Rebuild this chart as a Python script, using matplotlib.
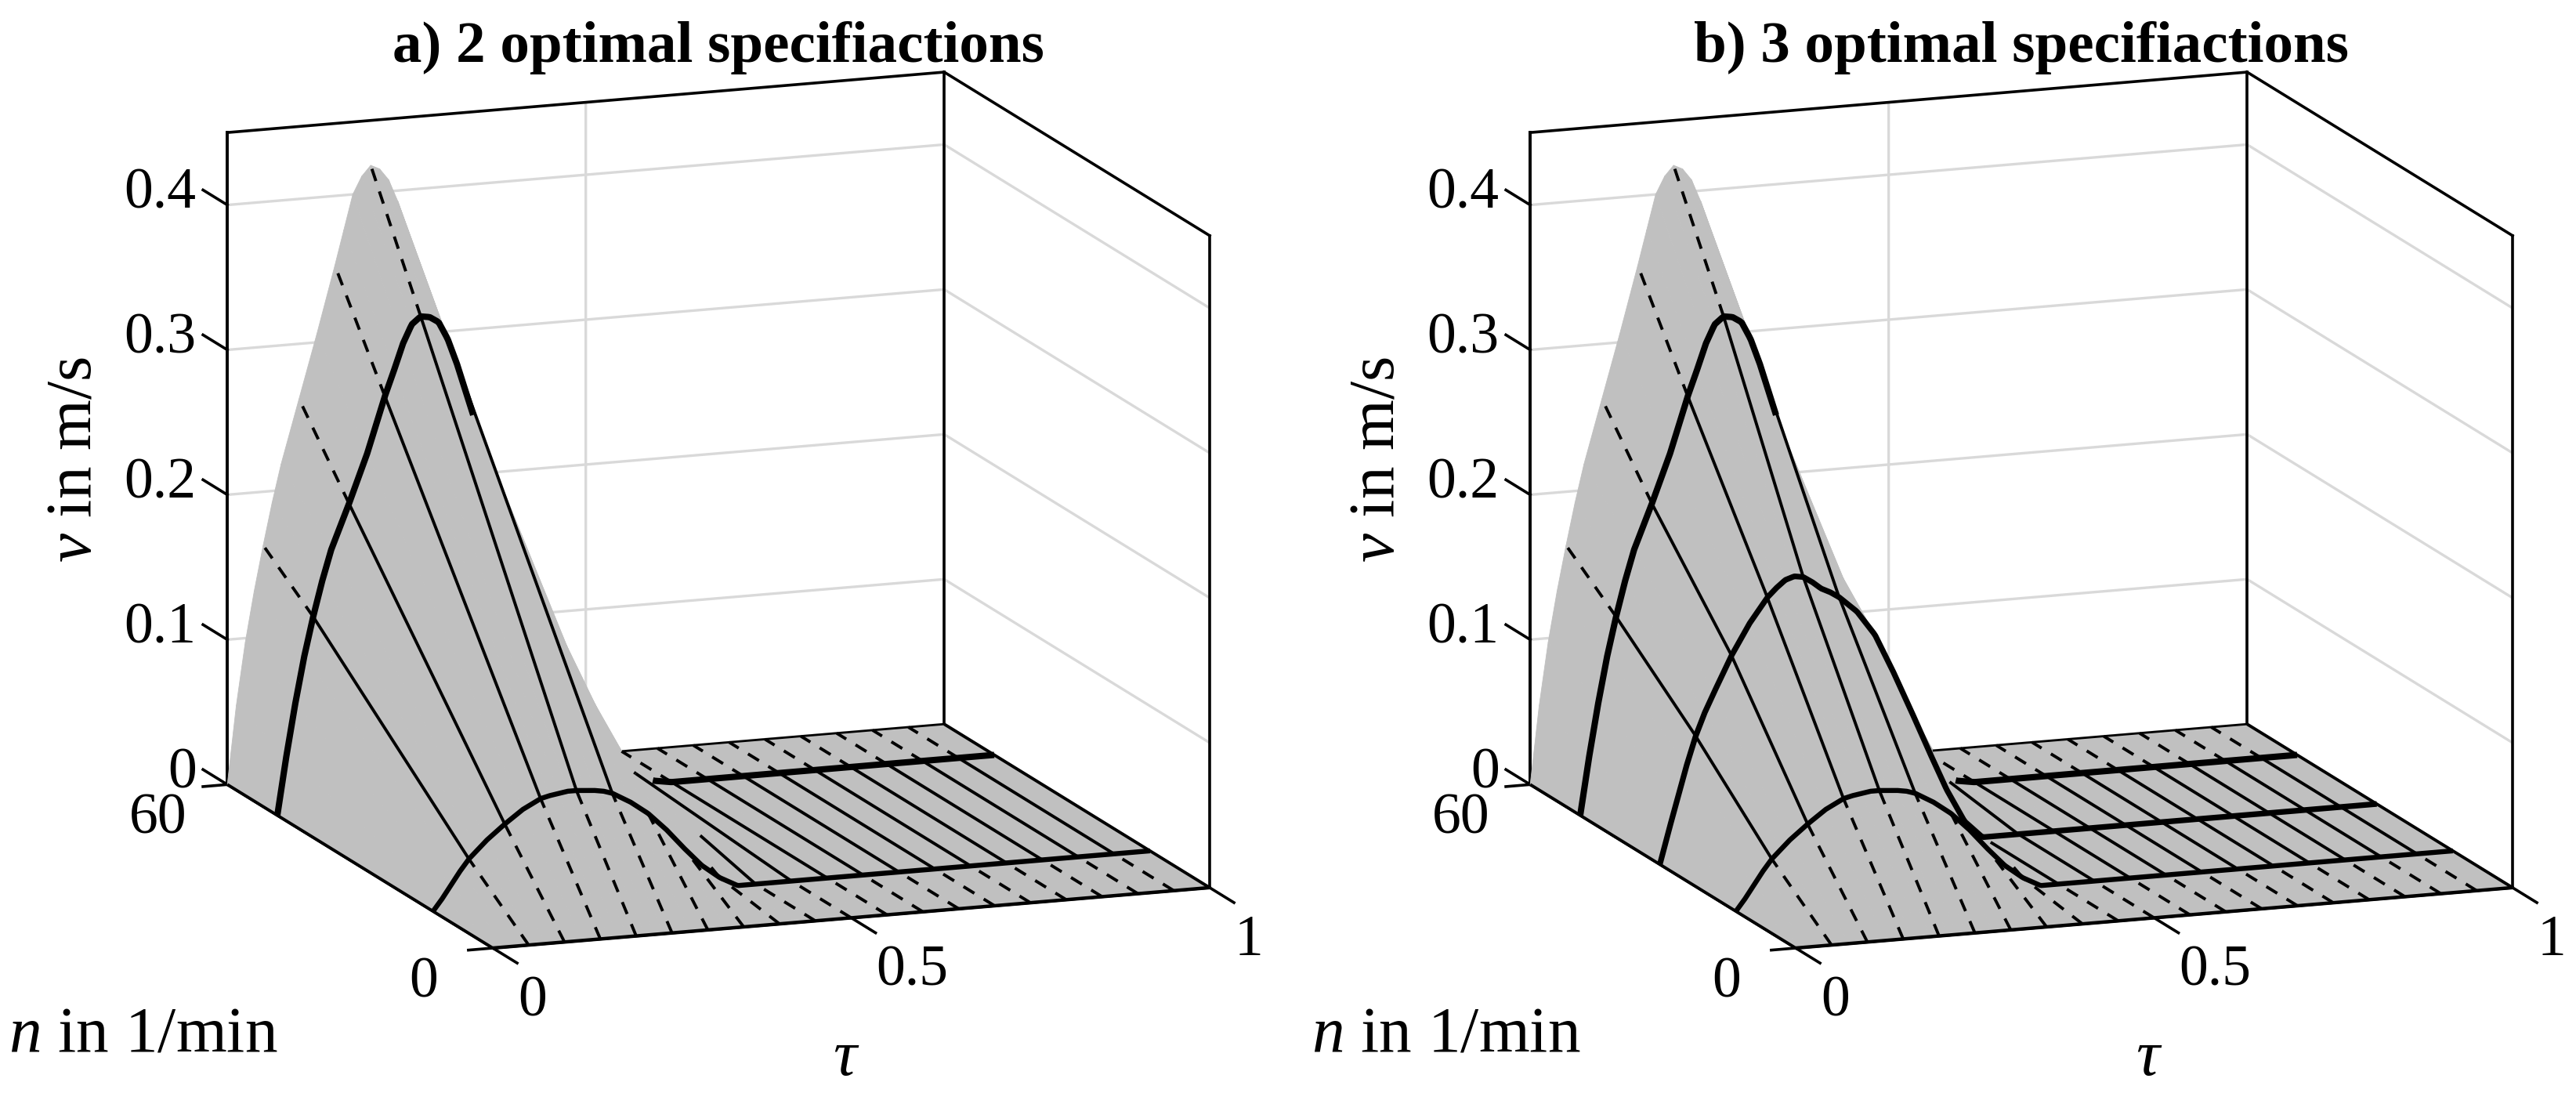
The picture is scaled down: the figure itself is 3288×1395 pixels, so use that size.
import numpy as np
import matplotlib
matplotlib.use("Agg")
import matplotlib.pyplot as plt
from mpl_toolkits.mplot3d import proj3d

W, H = 3288, 1395
plt.rcParams.update({
    'font.family': ['Liberation Serif', 'DejaVu Serif'],
    'mathtext.fontset': 'custom',
    'mathtext.rm': 'Liberation Serif',
    'mathtext.it': 'Liberation Serif:italic',
    'mathtext.bf': 'Liberation Serif:bold',
    'axes.linewidth': 2.6,
    'grid.color': '#d9d9d9', 'grid.linewidth': 2.4,
})

# ---- data ---------------------------------------------------------------
TAU_HUMP = [0, .0125, .025, .0375, .05, .0625, .075, .1, .125, .15, .1625, .175, .1875,
            .2, .2125, .225, .2375, .25, .275, .3, .325, .35, .375, .4, .425, .45,
            .475, .5, .525, .55, .575, .6]
TAU_FLAT = [.65, .7, .75, .8, .85, .9, .95, 1.0]
TAU_LINES = [.05, .1, .15, .2, .25, .3, .35, .4, .45, .5, .55, .6, .65, .7,
             .75, .8, .85, .9, .95]
V_FLAT = [0, 0, 0, 0, 0, 0, 0, 0]
V_N0 = [0] * 32
V_N13 = [0, .008, .017, .026, .034, .04, .046, .056, .065, .0715, .073, .074, .075,
         .075, .0745, .074, .073, .071, .064, .055, .043, .029, .016, .0065,
         0, 0, 0, 0, 0, 0, 0, 0]
V_N31 = [0, .023, .045, .067, .0865, .102, .115, .14, .161, .178, .184, .189, .191,
         .19, .186, .181, .178, .174, .163, .146, .12, .092, .063, .035, .012,
         0, 0, 0, 0, 0, 0, 0]
V_N49 = [0, .04, .076, .108, .135, .159, .18, .211, .244, .283, .30, .318, .331,
         .336, .335, .331, .319, .302, .262, .21, .166, .13, .097, .069, .045, .028,
         .016, .008, .002, 0, 0, 0]
V_N60 = [0, .054, .097, .132, .163, .192, .218, .262, .306, .352, .376, .400, .412,
         .419, .416, .408, .393, .375, .32, .26, .205, .16, .12, .085, .055, .035,
         .02, .01, .003, 0, 0, 0]
N_A = [0, 13.5, 48.7, 60]
N_B = [0, 13.5, 30.7, 48.7, 60]
SPEC_A = [13.5, 48.7]
SPEC_B = [13.5, 30.7, 48.7]
SPEC_WIDTH = {13.5: 4.6, 30.7: 5.2, 48.7: 5.8}
TITLE_A = 'a) 2 optimal specifiactions'
TITLE_B = 'b) 3 optimal specifiactions'
TAU_TICKS = [0, .5, 1]
TAU_TICKLABELS = ['0', '0.5', '1']
N_TICKS = [0, 60]
N_TICKLABELS = ['0', '60']
V_TICKS = [0, .1, .2, .3, .4]
V_TICKLABELS = ['0', '0.1', '0.2', '0.3', '0.4']

GRAY = '#c0c0c0'
ELEV, AZIM = 13.17, -110.3
BOX = (976, 977, 855)
VMAX = .45
FS_TICK = 53
FS_LABEL = 60
FS_TITLE = 54
DASH = (4.2, 3.6)
LW_BOX = 2.6

fig = plt.figure(figsize=(W / 100, H / 100), dpi=100, facecolor='white')


def interp2(tau, n, taus, ns, table):
    tau = np.clip(tau, taus[0], taus[-1]); n = np.clip(n, ns[0], ns[-1])
    i = np.clip(np.searchsorted(taus, tau, side='right') - 1, 0, len(taus) - 2)
    j = np.clip(np.searchsorted(ns, n, side='right') - 1, 0, len(ns) - 2)
    u = (tau - taus[i]) / (taus[i + 1] - taus[i])
    w = (n - ns[j]) / (ns[j + 1] - ns[j])
    return ((1 - u) * (1 - w) * table[j, i] + u * (1 - w) * table[j, i + 1]
            + (1 - u) * w * table[j + 1, i] + u * w * table[j + 1, i + 1])


def hidden(tau, n, v, taus, ns, table):
    az, el = np.radians(AZIM), np.radians(ELEV)
    dx = np.cos(el) * np.cos(az) / BOX[0]
    dy = np.cos(el) * np.sin(az) * 60 / BOX[1]
    dz = np.sin(el) * VMAX / BOX[2]
    out = np.zeros(tau.shape, bool)
    for s in np.linspace(2, 1500, 500):
        t2, n2, v2 = tau + s * dx, n + s * dy, v + s * dz
        inside = (t2 >= 0) & (n2 >= 0)
        out |= inside & (interp2(t2, n2, taus, ns, table) > v2 + .0015)
    return out


def project(ax, a, b, c):
    ax.apply_aspect()
    x, y, _z = proj3d.proj_transform(a, b, c, ax.get_proj())
    return ax.transData.transform((x, y))


def place(ax, x_target_b, y_target_b, x_target_c):
    """Size and shift the square 3D axes so the floor corners land on target."""
    side = 1500.0
    cx, cy = x_target_b + 400, 700.0
    for _ in range(4):
        ax.set_position([(cx - side / 2) / W, (H - cy - side / 2) / H, side / W, side / H])
        pb = project(ax, 0, 0, 0); pc = project(ax, 1, 0, 0)
        side *= (x_target_c - x_target_b) / (pc[0] - pb[0])
        cx += x_target_b - pb[0]
        cy += -((H - pb[1]) - y_target_b)
    ax.set_position([(cx - side / 2) / W, (H - cy - side / 2) / H, side / W, side / H])


def panel(ns, rows, specs, title, off):
    ax = fig.add_axes([0, 0, 1, 1], projection='3d', computed_zorder=False)
    ax.set_facecolor('none')
    ax.set_proj_type('ortho')
    ax.view_init(elev=ELEV, azim=AZIM)
    ax.set_box_aspect(BOX)
    ax.set_xlim(0, 1, view_margin=0)
    ax.set_ylim(0, 60, view_margin=0)
    ax.set_zlim(0, VMAX, view_margin=0)
    ax.set_xticks(TAU_TICKS, labels=[''] * len(TAU_TICKS))
    ax.set_yticks(N_TICKS, labels=[''] * len(N_TICKS))
    ax.set_zticks(V_TICKS, labels=[''] * len(V_TICKS))
    for axis in (ax.xaxis, ax.yaxis, ax.zaxis):
        axis.set_pane_color((1, 1, 1, 0))
        axis._axinfo['tick'].update(inward_factor=0, outward_factor=0)
    ax.yaxis._axinfo['grid'].update(color=(1, 1, 1, 0))

    taus = np.array(TAU_HUMP + TAU_FLAT, float)
    table = np.array([r + V_FLAT for r in rows], float)
    ns_a = np.array(ns, float)
    T, N = np.meshgrid(taus, ns_a)
    ax.plot_surface(T, N, table, rstride=1, cstride=1, color=GRAY, shade=False,
                    linewidth=.6, edgecolor=GRAY, antialiased=True, zorder=2)

    def draw(t, n, lw, z=4, vmax_shown=None, tau_end=None, show_until=-1, **kw):
        t = np.asarray(t, float) * np.ones(400); n = np.asarray(n, float) * np.ones(400)
        v = interp2(t, n, taus, ns_a, table)
        mask = hidden(t, n, v, taus, ns_a, table) & (t > show_until)
        if vmax_shown is not None:
            mask |= v > vmax_shown
        if tau_end is not None:
            mask |= (t > tau_end) & (v > .0025)
        v = np.where(mask, np.nan, v)
        ax.plot(t, n, v, color='k', lw=lw, zorder=z, solid_capstyle='butt', **kw)

    # walls
    for xs, ys, zs in [((0, 0), (60, 60), (0, VMAX)), ((1, 1), (60, 60), (0, VMAX)),
                       ((1, 1), (0, 0), (0, VMAX)), ((0, 1), (60, 60), (VMAX, VMAX)),
                       ((1, 1), (0, 60), (VMAX, VMAX))]:
        ax.plot(xs, ys, zs, color='k', lw=LW_BOX, zorder=1)
    # tick marks
    for val in V_TICKS:
        ax.plot((0, 0), (60, 65.5), (val, val), color='k', lw=LW_BOX, zorder=1)
    for val in TAU_TICKS:
        ax.plot((val, val), (0, -5.5), (0, 0), color='k', lw=LW_BOX, zorder=1)
    for val in N_TICKS:
        ax.plot((0, -.034), (val, val), (0, 0), color='k', lw=LW_BOX, zorder=1)
    # floor edges on top of the surface
    draw(np.linspace(0, 1, 400), 0, 3.2)
    draw(0, np.linspace(0, 60, 400), 2.8)
    draw(1, np.linspace(0, 60, 400), 2.8)
    draw(np.linspace(0, 1, 400), 60, 2.0, vmax_shown=1e-6)

    lo, hi = min(specs), max(specs)
    for t in TAU_LINES:
        draw(t, np.linspace(0, lo, 400), 2.8, dashes=DASH, dash_capstyle='butt')
        draw(t, np.linspace(lo, hi, 400), 2.8, vmax_shown=.01 if t > .25 else None)
        draw(t, np.linspace(hi, 60, 400), 2.8, dashes=DASH, dash_capstyle='butt',
             vmax_shown=.01 if t > .2 else None)
    for n0 in specs:
        if n0 == hi:
            draw(np.linspace(0, 1, 400), n0, SPEC_WIDTH[n0], z=5, tau_end=.35, show_until=.275)
        elif n0 == lo:
            draw(np.linspace(0, 1, 400), n0, SPEC_WIDTH[n0], z=5)
        else:
            draw(np.linspace(0, 1, 400), n0, SPEC_WIDTH[n0], z=5, show_until=1)

    place(ax, 629 + off, 1210, 1544 + off)

    # tick labels, placed by the axes' own projection
    def tick_text(a, b, c, s, ha):
        px = project(ax, a, b, c)
        fig.text(px[0] / W, px[1] / H, s, ha=ha, va='center', fontsize=FS_TICK)
    for val, lab in zip(V_TICKS, V_TICKLABELS):
        tick_text(0, 67, val - .0057, lab, 'right')
    for val, lab in zip(TAU_TICKS, TAU_TICKLABELS):
        tick_text(val - .0762, -18, 0, lab, 'left')
    for val, lab in zip(N_TICKS, N_TICKLABELS):
        tick_text(-.0966, val, -.02, lab, 'center')

    def T2(x, y, s, **kw):
        fig.text((x + off) / W, 1 - y / H, s, ha='center', va='center', **kw)
    T2(917, 61, title, fontsize=FS_TITLE, fontweight='bold')
    T2(96, 587, r'$v$ in m/s', fontsize=FS_LABEL, rotation=90)
    T2(183, 1322, r'$n$ in 1/min', fontsize=FS_LABEL)
    T2(1080, 1352, r'$\tau$', fontsize=FS_LABEL)
    return ax


panel(N_A, [V_N0, V_N13, V_N49, V_N60], SPEC_A, TITLE_A, 0)
panel(N_B, [V_N0, V_N13, V_N31, V_N49, V_N60], SPEC_B, TITLE_B, 1663)
fig.savefig('out.png', dpi=100)
